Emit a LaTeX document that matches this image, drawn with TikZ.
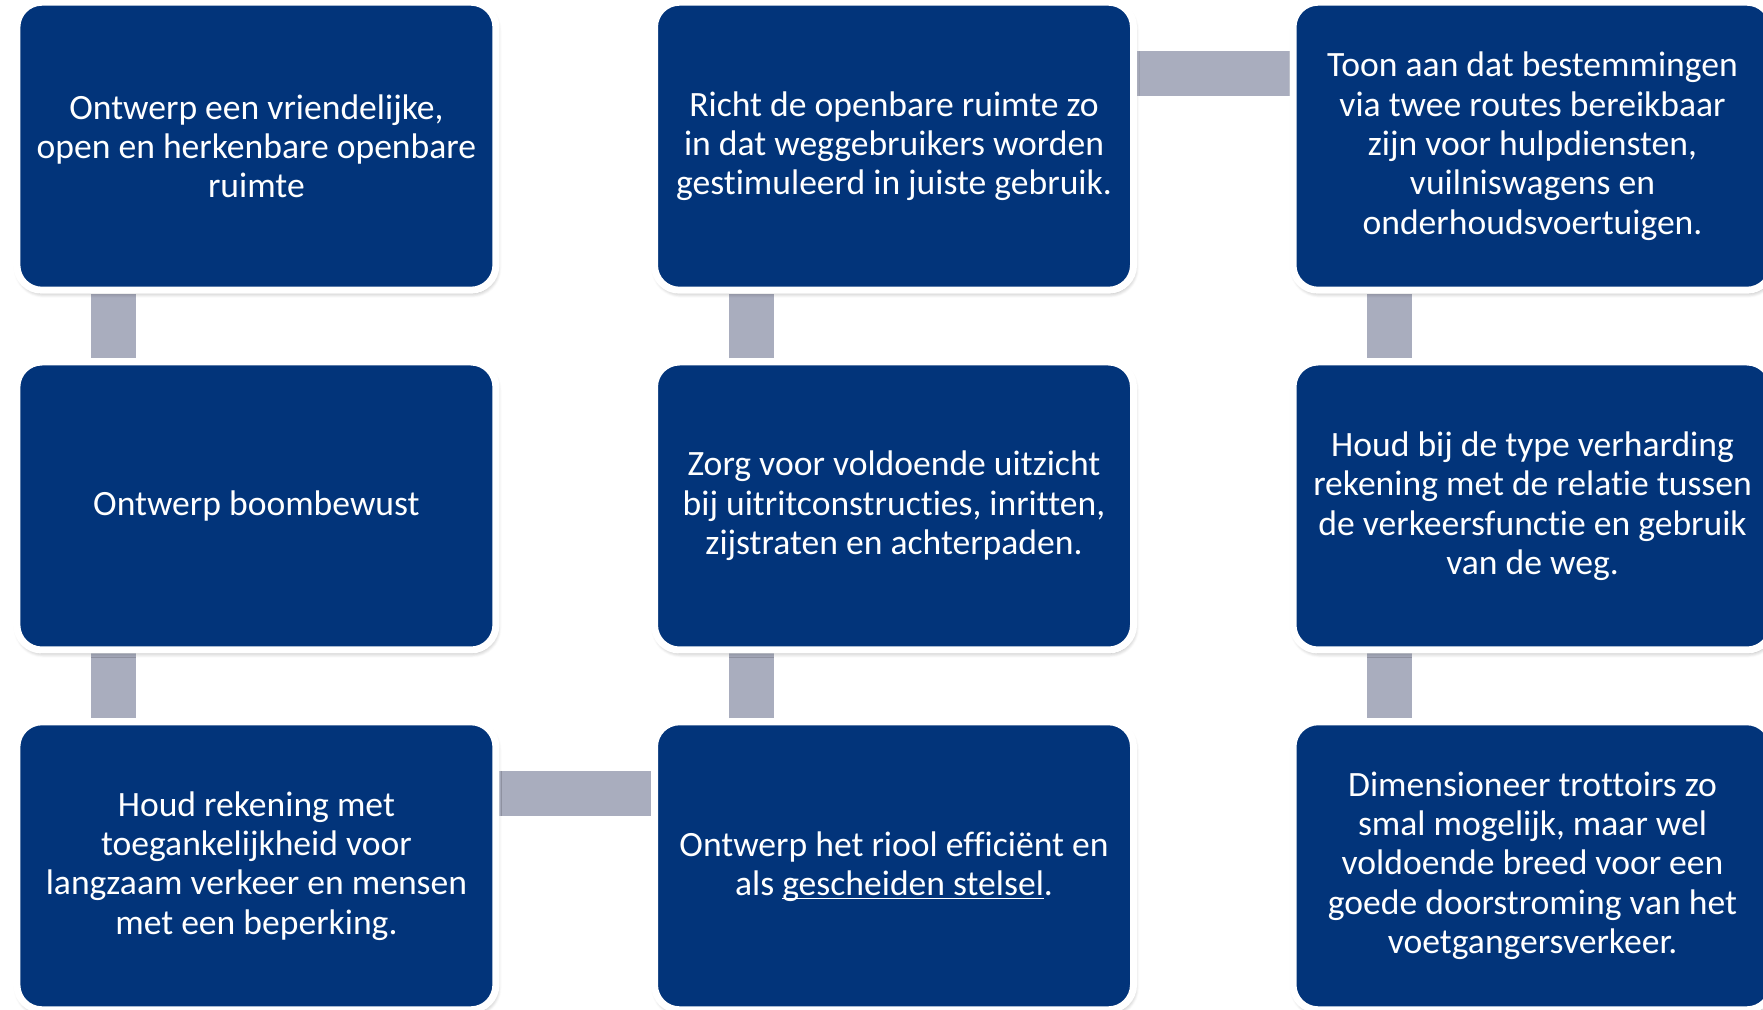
\documentclass[tikz,border=0pt]{standalone}
\usepackage{fontspec}
\setmainfont[Ligatures=NoCommon]{Carlito}
\usepackage{xcolor}
\definecolor{navy}{HTML}{02347A}
\definecolor{bar}{HTML}{A9ADBE}
\usepackage{tikz}
\usetikzlibrary{calc,backgrounds,shadows.blur}
\newcommand{\onderlijn}[1]{\underline{\smash{#1}}}

\tikzset{
  tip/.style={rectangle,rounded corners=12.5pt,fill=navy,draw=white,line width=3.5pt,
    minimum width=239.5pt,minimum height=144pt,text=white,align=center,
    font=\fontsize{17.8pt}{19.7pt}\selectfont,
    blur shadow={shadow xshift=0.6pt,shadow yshift=-1.6pt,shadow blur radius=2.2pt,
      shadow blur steps=6,shadow opacity=35}},
  link/.style={bar,line width=22.5pt}
}

\begin{document}
\begin{tikzpicture}[x=0.5pt,y=-0.5pt]
  \useasboundingbox (0,0) rectangle (1763,1010);
  % first column
  \node[tip] (ontwerp) at (256.4,146.2) {Ontwerp een vriendelijke,\\ open en herkenbare openbare\\ ruimte};
  \node[tip] (boom) at (256.4,506) {Ontwerp boombewust};
  \node[tip] (toegang) at (256.4,865.8) {Houd rekening met\\ toegankelijkheid voor\\ langzaam verkeer en mensen\\ met een beperking.};
  % second column
  \node[tip] (richt) at (894,146.2) {Richt de openbare ruimte zo\\ in dat weggebruikers worden\\ gestimuleerd in juiste gebruik.};
  \node[tip] (zicht) at (894,506) {Zorg voor voldoende uitzicht\\ bij uitritconstructies, inritten,\\ zijstraten en achterpaden.};
  \node[tip] (riool) at (894,865.8) {Ontwerp het riool efficiënt en\\ als \onderlijn{gescheiden stelsel}.};
  % third column
  \node[tip] (toon) at (1532.5,146.2) {Toon aan dat bestemmingen\\ via twee routes bereikbaar\\ zijn voor hulpdiensten,\\ vuilniswagens en\\ onderhoudsvoertuigen.};
  \node[tip] (verharding) at (1532.5,506) {Houd bij de type verharding\\ rekening met de relatie tussen\\ de verkeersfunctie en gebruik\\ van de weg.};
  \node[tip] (trottoir) at (1532.5,865.8) {Dimensioneer trottoirs zo\\ smal mogelijk, maar wel\\ voldoende breed voor een\\ goede doorstroming van het\\ voetgangersverkeer.};
  % grey links behind the boxes
  \begin{scope}[on background layer]
    \draw[link] ($(ontwerp.south west)+(100,0)$) -- ($(boom.north west)+(100,0)$);
    \draw[link] ($(boom.south west)+(100,0)$) -- ($(toegang.north west)+(100,0)$);
    \draw[link] ($(toegang.north east)+(0,75)$) -- ($(riool.north west)+(0,75)$);
    \draw[link] ($(riool.north west)+(100,0)$) -- ($(zicht.south west)+(100,0)$);
    \draw[link] ($(zicht.north west)+(100,0)$) -- ($(richt.south west)+(100,0)$);
    \draw[link] ($(richt.north east)+(0,75)$) -- ($(toon.north west)+(0,75)$);
    \draw[link] ($(toon.south west)+(100,0)$) -- ($(verharding.north west)+(100,0)$);
    \draw[link] ($(verharding.south west)+(100,0)$) -- ($(trottoir.north west)+(100,0)$);
  \end{scope}
\end{tikzpicture}
\end{document}
